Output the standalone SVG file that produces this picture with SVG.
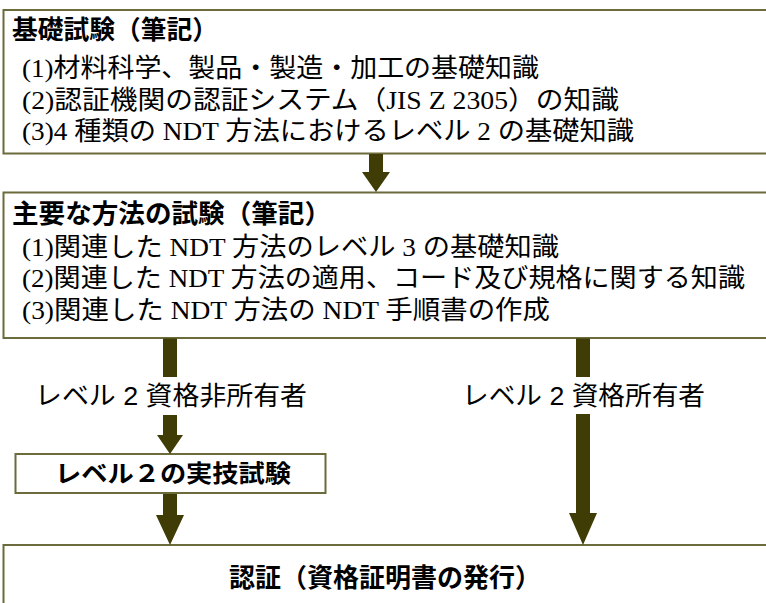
<svg xmlns="http://www.w3.org/2000/svg" width="766" height="603" viewBox="0 0 766 603">
<style>
.box{fill:#fff;stroke:#6b6b3c;stroke-width:2}
.title{font-family:"Liberation Sans","Noto Sans CJK JP",sans-serif;font-weight:bold;font-size:26px;fill:#000}
.body{font-family:"Liberation Serif","Noto Sans CJK JP",serif;font-size:26px;fill:#000}
.lbl{font-family:"Liberation Sans","Noto Sans CJK JP",sans-serif;font-size:26px;fill:#000}
.arr{fill:#3f3d05}
</style>
<rect x="0" y="0" width="766" height="603" fill="#fff"/>
<g id="node-basic">
<rect class="box" x="3.5" y="10" width="800" height="143.5"/>
<text class="title" x="12" y="39" textLength="206" lengthAdjust="spacingAndGlyphs">基礎試験（筆記）</text>
<text class="body" x="22" y="77" textLength="517" lengthAdjust="spacingAndGlyphs">(1)材料科学、製品・製造・加工の基礎知識</text>
<text class="body" x="22" y="109" textLength="597" lengthAdjust="spacingAndGlyphs">(2)認証機関の認証システム（JIS Z 2305）の知識</text>
<text class="body" x="22" y="140" textLength="612" lengthAdjust="spacingAndGlyphs">(3)4 種類の NDT 方法におけるレベル 2 の基礎知識</text>
</g>
<g id="node-main">
<rect class="box" x="3.5" y="192.5" width="800" height="145.5"/>
<text class="title" x="12" y="223" textLength="319" lengthAdjust="spacingAndGlyphs">主要な方法の試験（筆記）</text>
<text class="body" x="22" y="256" textLength="537" lengthAdjust="spacingAndGlyphs">(1)関連した NDT 方法のレベル 3 の基礎知識</text>
<text class="body" x="22" y="287" textLength="723" lengthAdjust="spacingAndGlyphs">(2)関連した NDT 方法の適用、コード及び規格に関する知識</text>
<text class="body" x="22" y="319" textLength="528" lengthAdjust="spacingAndGlyphs">(3)関連した NDT 方法の NDT 手順書の作成</text>
</g>
<g id="node-practical">
<rect class="box" x="15.5" y="454" width="310" height="39"/>
<text class="title" x="55" y="482" textLength="236" lengthAdjust="spacingAndGlyphs" style="font-size:24px">レベル２の実技試験</text>
</g>
<g id="node-cert">
<rect class="box" x="3.5" y="545" width="800" height="80"/>
<text class="title" x="229" y="587" textLength="312" lengthAdjust="spacingAndGlyphs">認証（資格証明書の発行）</text>
</g>
<g id="connectors">
<path class="arr" d="M369,154 H383 V172 H390 L376,192 L362,172 H369 Z"/>
<rect class="arr" x="163" y="338.5" width="14" height="38.5"/>
<path class="arr" d="M163,415 H177 V435 H183 L170,454 L157,435 H163 Z"/>
<path class="arr" d="M163,494 H177 V515 H184 L170,545 L156,515 H163 Z"/>
<rect class="arr" x="576" y="338.5" width="14" height="38.5"/>
<path class="arr" d="M576,414 H590 V513 H597 L583,545 L569,513 H576 Z"/>
<text class="lbl" x="35" y="405" textLength="272" lengthAdjust="spacingAndGlyphs">レベル 2 資格非所有者</text>
<text class="lbl" x="462" y="405" textLength="243" lengthAdjust="spacingAndGlyphs">レベル 2 資格所有者</text>
</g>
</svg>
